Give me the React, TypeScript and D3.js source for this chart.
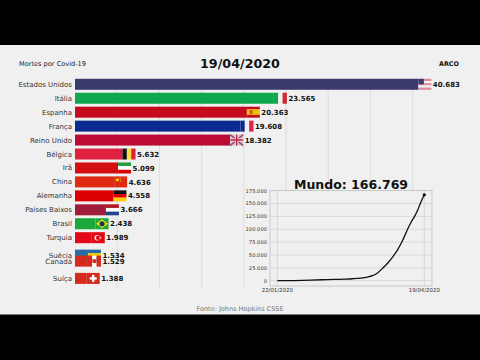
import React from "react";
import * as d3 from "d3";

const countries = ["Estados Unidos","Itália","Espanha","França","Reino Unido","Bélgica","Irã","China","Alemanha","Países Baixos","Brasil","Turquia","Suécia","Canadá","Suíça"];
const deaths = [40683,23565,20363,19608,18382,5632,5099,4636,4558,3666,2438,1989,1534,1529,1388];
const ranks = [0,1,2,3,4,5,6,7,8,9,10,11,12.25,12.68,13.92];
const barColors = ["#3c3b6e","#0fa84f","#c60b1e","#0a2a8f","#bb0a35","#e0203f","#d40f0f","#de2a10","#dd0000","#a01a3a","#1aa83c","#e30a17","#2a6ca8","#d52b1e","#d52b1e"];
const flagStripes: string[][] = [
  ["#d98c9c","#eeeeee","#d98c9c","#eeeeee","#d98c9c"],
  ["v","#0fa84f","#f0f0f0","#ce2b37"],
  ["#c60b1e","#f5b800","#f5b800","#c60b1e"],
  ["v","#0a2a8f","#f0f0f0","#e0244a"],
  ["#d9c4cc"],
  ["v","#111111","#fae042","#e0203f"],
  ["#239f40","#ffffff","#da0000"],
  ["#de2a10"],
  ["#111111","#dd0000","#ffce00"],
  ["#ae1c28","#ffffff","#21468b"],
  ["#1aa83c"],
  ["#e30a17"],
  ["#2a6ca8","#f0c800","#2a6ca8"],
  ["v","#d52b1e","#ffffff","#d52b1e"],
  ["#d52b1e"],
];
const worldDates = ["22/01/2020","19/04/2020"];
const worldDays = [0,10,20,30,40,45,50,54,57,60,63,66,69,72,75,78,80,82,84,86,88];
const worldVals = [17,300,1100,2200,3100,3800,5000,7000,9700,15000,24000,34000,46000,60000,78000,100000,113000,124000,137000,153000,166769];
const worldTicks = [0,25000,50000,75000,100000,125000,150000,175000];
const gridVals = [5000,10000,15000,20000,25000,30000,35000,40000];

const fmt = (v: number) => d3.format(",")(v).replace(/,/g, ".");
const font = "'DejaVu Sans', sans-serif";

export default function App() {
  const x = d3.scaleLinear().domain([0, 40000]).range([75, 412.6]);
  const y = d3.scaleLinear().domain([0, 13.92]).range([84.3, 278.4]);
  const ix = d3.scaleLinear().domain([0, 88]).range([277.3, 424.3]);
  const iy = d3.scaleLinear().domain([0, 175000]).range([280.7, 190.6]);
  const line = d3.line<number>().x((_, i) => ix(worldDays[i])).y((d) => iy(d)).curve(d3.curveMonotoneX);
  const bh = 11, fw = 13;
  return (
    <svg width={480} height={360} style={{ position: "fixed", left: 0, top: 0, display: "block" }} fontFamily={font}>
      <rect width={480} height={360} fill="#f0f0f0" />
      <rect width={480} height={45} fill="#000" />
      <rect y={314.5} width={480} height={45.5} fill="#000" />
      {gridVals.map((v) => (
        <line key={v} x1={x(v)} x2={x(v)} y1={78} y2={288} stroke="#e0e0e0" strokeWidth={1.2} />
      ))}
      <text x={19} y={65.5} fontSize={6.6} fill="#222">Mortes por Covid-19</text>
      <text x={240} y={67.5} fontSize={12.7} fontWeight="bold" textAnchor="middle" fill="#111">19/04/2020</text>
      <text x={449} y={65.5} fontSize={6.4} fontWeight="bold" textAnchor="middle" fill="#111">ARCO</text>
      {countries.map((c, i) => {
        const cy = y(ranks[i]);
        const xe = x(deaths[i]);
        const s = flagStripes[i];
        const vert = s[0] === "v";
        const st = vert ? s.slice(1) : s;
        const top = cy - bh / 2;
        return (
          <g key={c}>
            <text x={72} y={cy + 2.5} fontSize={7} textAnchor="end" fill="#333">{c}</text>
            <rect x={75} y={top} width={xe - 75} height={bh} fill={barColors[i]} />
            {st.map((col, k) => vert ? (
              <rect key={k} x={xe + (k * fw) / st.length} y={top} width={fw / st.length} height={bh} fill={col} />
            ) : (
              <rect key={k} x={xe} y={top + (k * bh) / st.length} width={fw} height={bh / st.length} fill={col} />
            ))}
            {c === "Brasil" && <g><path d={`M${xe + 0.5} ${cy}L${xe + 6.5} ${cy - 4.5}L${xe + 12.5} ${cy}L${xe + 6.5} ${cy + 4.5}Z`} fill="#f5d90a" /><circle cx={xe + 6.5} cy={cy} r={2.6} fill="#123a50" /></g>}
            {c === "Turquia" && <g><circle cx={xe + 5.5} cy={cy} r={2.8} fill="#fff" /><circle cx={xe + 6.3} cy={cy} r={2.2} fill="#e30a17" /><circle cx={xe + 8.6} cy={cy} r={0.9} fill="#fff" /></g>}
            {c === "Suíça" && <g fill="#fff"><rect x={xe + 3} y={cy - 1.2} width={7} height={2.4} /><rect x={xe + 5.3} y={cy - 3.5} width={2.4} height={7} /></g>}
            {c === "Canadá" && <circle cx={xe + 6.5} cy={cy} r={2.2} fill="#d52b1e" />}
            {c === "China" && <g fill="#ffde00"><circle cx={xe + 3.2} cy={cy - 2.2} r={1.5} /><circle cx={xe + 6} cy={cy - 3.5} r={0.6} /><circle cx={xe + 6.5} cy={cy - 1} r={0.6} /></g>}
            {c === "Estados Unidos" && <rect x={xe} y={top} width={5.5} height={5.5} fill="#3c3b6e" />}
            {c === "Espanha" && <rect x={xe + 3} y={cy - 2} width={2.5} height={4} fill="#b5531a" />}
            {c === "Reino Unido" && <g fill="none">
              <path d={`M${xe} ${top}L${xe + fw} ${top + bh}M${xe + fw} ${top}L${xe} ${top + bh}`} stroke="#8a5a78" strokeWidth={1.6} />
              <path d={`M${xe + fw / 2} ${top}V${top + bh}M${xe} ${cy}H${xe + fw}`} stroke="#f4e8ec" strokeWidth={3} />
              <path d={`M${xe + fw / 2} ${top}V${top + bh}M${xe} ${cy}H${xe + fw}`} stroke="#c02040" strokeWidth={1.5} />
            </g>}
            <text x={xe + fw + 1.5} y={cy + 2.6} fontSize={7} fontWeight="bold" fill="#111">{fmt(deaths[i])}</text>
          </g>
        );
      })}
      <text x={240} y={311} fontSize={6.5} textAnchor="middle" fill="#777">Fonte: Johns Hopkins CSSE</text>

      <rect x={270} y={190.5} width={162} height={95.5} fill="#f0f0f0" />
      <text x={351} y={188.5} fontSize={12.5} fontWeight="bold" textAnchor="middle" fill="#111">Mundo: {fmt(166769)}</text>
      {worldTicks.map((t) => (
        <g key={t}>
          <line x1={270} x2={432} y1={iy(t)} y2={iy(t)} stroke="#d8d8d8" strokeWidth={1} />
          <text x={267} y={iy(t) + 2} fontSize={5.2} textAnchor="end" fill="#333">{fmt(t)}</text>
        </g>
      ))}
      {[0, 88].map((d, i) => (
        <g key={d}>
          <line x1={ix(d)} x2={ix(d)} y1={190} y2={286} stroke="#d8d8d8" strokeWidth={1} />
          <text x={ix(d)} y={291.5} fontSize={5.4} textAnchor="middle" fill="#333">{worldDates[i]}</text>
        </g>
      ))}
      <rect x={270} y={190.5} width={162} height={95.5} fill="none" stroke="#c8c8c8" strokeWidth={1} />
      <path d={line(worldVals) ?? ""} fill="none" stroke="#111" strokeWidth={1.3} />
      <circle cx={ix(88)} cy={iy(166769)} r={1.7} fill="#111" />
    </svg>
  );
}
